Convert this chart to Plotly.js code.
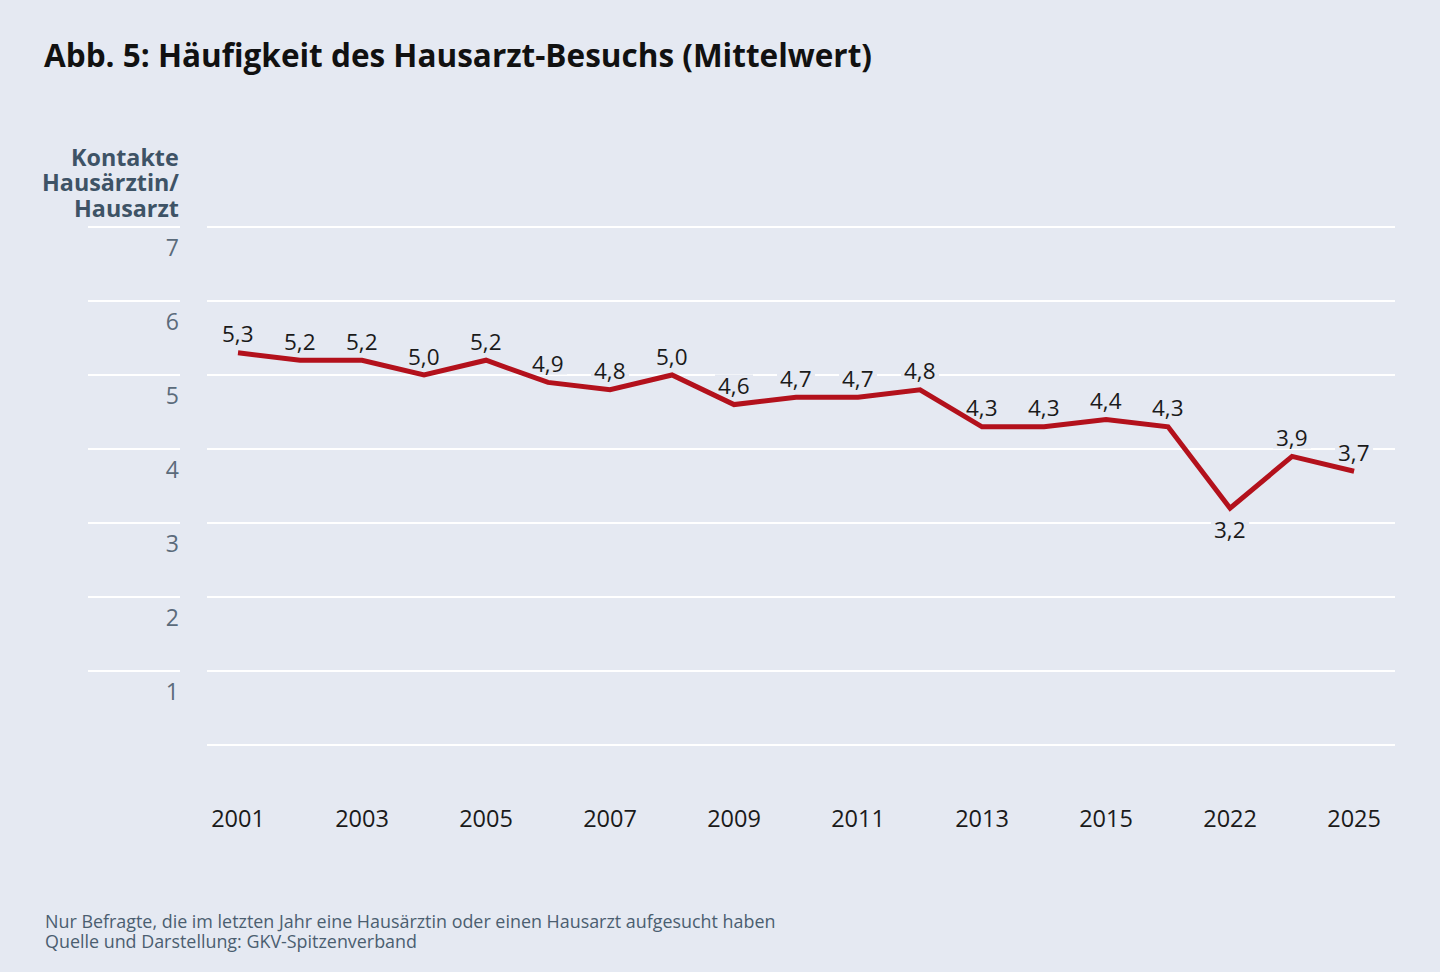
<!DOCTYPE html>
<html>
<head>
<meta charset="utf-8">
<script src="https://cdn.plot.ly/plotly-3.0.1.min.js"></script>
<style>
  html, body { margin: 0; padding: 0; background: #e5e9f2; }
  #chart { width: 1440px; height: 972px; }
</style>
</head>
<body>
<div id="chart"></div>
<script>
// ---- data ----
const years = ['2001','2002','2003','2004','2005','2006','2007','2008','2009','2010','2011','2012','2013','2014','2015','2016','2022','2024','2025'];
const contacts = [5.3, 5.2, 5.2, 5.0, 5.2, 4.9, 4.8, 5.0, 4.6, 4.7, 4.7, 4.8, 4.3, 4.3, 4.4, 4.3, 3.2, 3.9, 3.7];
const shownYears = ['2001','2003','2005','2007','2009','2011','2013','2015','2022','2025'];
const yTicks = [0, 1, 2, 3, 4, 5, 6, 7];
const yTickText = ['', '1', '2', '3', '4', '5', '6', '7'];
const labelsBelow = ['2022'];

const titleText = 'Abb. 5: Häufigkeit des Hausarzt-Besuchs (Mittelwert)';
const yTitleLines = ['Kontakte', 'Hausärztin/', 'Hausarzt'];
const footnoteLines = [
  'Nur Befragte, die im letzten Jahr eine Hausärztin oder einen Hausarzt aufgesucht haben',
  'Quelle und Darstellung: GKV-Spitzenverband'
];

// ---- style ----
const BG = '#e5e9f2';
const FONT = 'Open Sans, Noto Sans, sans-serif';
const RED = '#b3111c';
const W = 1440, H = 972;
const L = 207, R = 45, T = 225, B = 225;
const plotW = W - L - R, plotH = H - T - B;
const px2xp = px => (px - L) / plotW;
const py2yp = py => (H - B - py) / plotH;

const fmt = v => v.toFixed(1).replace('.', ',');
const xIdx = years.map((_, i) => i);
const tickIdx = shownYears.map(y => years.indexOf(y));
const labelShift = yr => labelsBelow.includes(yr) ? -21 : 19;

const annotations = years.map((yr, i) => ({
  x: xIdx[i], y: contacts[i], xref: 'x', yref: 'y',
  text: fmt(contacts[i]), showarrow: false,
  xanchor: 'center', yanchor: 'middle',
  yshift: labelShift(yr),
  font: { family: FONT, size: 22.5, color: '#1a1a1a' },
  borderpad: 0
}));

const yTitleCenters = [157, 182, 208];
yTitleLines.forEach((t, i) => annotations.push({
  xref: 'paper', yref: 'paper', x: px2xp(180), y: py2yp(yTitleCenters[i]),
  xanchor: 'right', yanchor: 'middle', align: 'right', showarrow: false,
  text: t, borderpad: 0,
  font: { family: FONT, size: 23.3, color: '#3e5366', weight: 700 }
}));

const footCenters = [921, 941];
footnoteLines.forEach((t, i) => annotations.push({
  xref: 'paper', yref: 'paper', x: px2xp(44), y: py2yp(footCenters[i]),
  xanchor: 'left', yanchor: 'middle', align: 'left', showarrow: false,
  text: t, borderpad: 0,
  font: { family: FONT, size: 17.9, color: '#4b5e70' }
}));

// short gridline stubs next to the tick labels
const shapes = yTicks.filter(v => v > 0).map(v => ({
  type: 'line', xref: 'paper', yref: 'y',
  x0: px2xp(88), x1: px2xp(180), y0: v, y1: v,
  line: { color: '#ffffff', width: 2 }, layer: 'below'
}));

// background knock-outs behind the value labels (between gridlines and the line)
years.forEach((yr, i) => {
  const s = labelShift(yr);
  shapes.push({
    type: 'rect', xref: 'x', yref: 'y',
    xsizemode: 'pixel', ysizemode: 'pixel',
    xanchor: xIdx[i], yanchor: contacts[i],
    x0: -19, x1: 19, y0: s - 11, y1: s + 11,
    fillcolor: BG, line: { width: 0 }, layer: 'between'
  });
});

const trace = {
  type: 'scatter', mode: 'lines',
  x: xIdx, y: contacts,
  line: { color: RED, width: 5, shape: 'linear' },
  hoverinfo: 'skip', cliponaxis: false
};

const layout = {
  width: W, height: H,
  paper_bgcolor: BG, plot_bgcolor: BG,
  margin: { l: L, r: R, t: T, b: B, pad: 0 },
  showlegend: false,
  title: {
    text: titleText, xref: 'container', yref: 'container',
    x: 44 / W, xanchor: 'left', y: 1 - 56 / H, yanchor: 'middle',
    font: { family: FONT, size: 31.5, color: '#111111', weight: 700 }
  },
  xaxis: {
    type: 'linear',
    range: [-0.5, 18.66],
    tickmode: 'array', tickvals: tickIdx, ticktext: shownYears,
    showgrid: false, zeroline: false, showline: false,
    ticks: '', ticklabelstandoff: 55,
    tickfont: { family: FONT, size: 23.5, color: '#1a1a1a' },
    fixedrange: true
  },
  yaxis: {
    type: 'linear',
    range: [-0.027, 7.027],
    tickmode: 'array', tickvals: yTicks, ticktext: yTickText,
    showgrid: true, gridcolor: '#ffffff', gridwidth: 2,
    zeroline: false, showline: false, ticks: '',
    ticklabelstandoff: 27, ticklabelshift: 21,
    tickfont: { family: FONT, size: 23, color: '#5b6b7b' },
    fixedrange: true
  },
  shapes: shapes,
  annotations: annotations
};

Plotly.newPlot('chart', [trace], layout, { displayModeBar: false, staticPlot: true });
</script>
</body>
</html>
